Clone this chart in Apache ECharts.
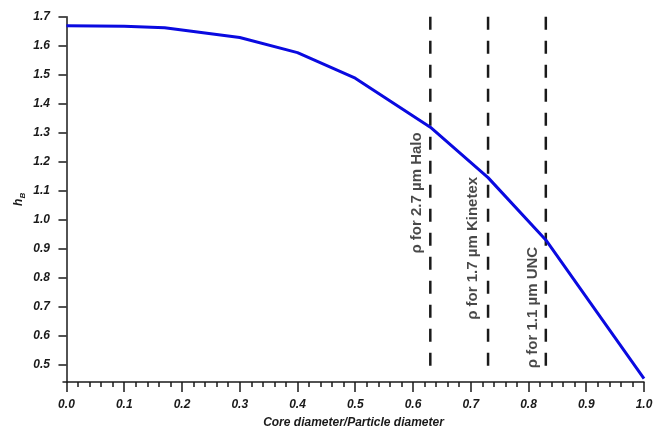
<!DOCTYPE html>
<html lang="en">
  <head>
    <meta charset="utf-8" />
    <script type="text/javascript" src="https://cdn.jsdelivr.net/npm/echarts@6/dist/echarts.min.js"></script>
    <title>h_B vs core diameter ratio</title>
    <style>
      html, body { margin: 0; padding: 0; background: #fff; }
      #chart { width: 658px; height: 437px; }
    </style>
  </head>
  <body>
    <div id="chart"></div>
    <script>
      // curve: core/particle diameter ratio vs h_B
      var ratio = [0.0, 0.1, 0.17, 0.3, 0.4, 0.5, 0.63, 0.73, 0.83, 0.92, 1.0]
      var hB = [1.669, 1.667, 1.662, 1.628, 1.576, 1.488, 1.319, 1.145, 0.930, 0.677, 0.452]

      // vertical markers (rho of each column type)
      var rhoX = [0.63, 0.73, 0.83]
      var rhoTop = 1.7
      var rhoBottom = 0.46
      var rhoNames = ['\u03c1 for 2.7 \u00b5m Halo', '\u03c1 for 1.7 \u00b5m Kinetex', '\u03c1 for 1.1 \u00b5m UNC']
      var rhoLabelX = [0.607, 0.703, 0.808]
      var rhoLabelY = [1.092, 0.901, 0.697]

      var xTicks = [0.0, 0.1, 0.2, 0.3, 0.4, 0.5, 0.6, 0.7, 0.8, 0.9, 1.0]
      var yTicks = [0.5, 0.6, 0.7, 0.8, 0.9, 1.0, 1.1, 1.2, 1.3, 1.4, 1.5, 1.6, 1.7]

      var minorX = []
      for (var i = 0; i <= 50; i++) {
        if (i % 5 !== 0) minorX.push(i / 50)
      }

      var font = 'Liberation Sans, Arial, sans-serif'
      var ink = '#1a1a1a'

      var series = [{
        type: 'line',
        data: ratio.map(function (x, i) { return [x, hB[i]] }),
        showSymbol: false,
        lineStyle: { color: '#0a0ae0', width: 3 },
        z: 3
      }]
      rhoX.forEach(function (x) {
        series.push({
          type: 'line',
          data: [[x, rhoTop], [x, rhoBottom]],
          showSymbol: false,
          lineStyle: { color: ink, width: 2.5, type: [13, 11] },
          z: 2
        })
      })
      series.push({
        type: 'scatter',
        symbolSize: 0,
        data: rhoNames.map(function (n, i) { return { name: n, value: [rhoLabelX[i], rhoLabelY[i]] } }),
        label: {
          show: true,
          position: 'inside',
          rotate: 90,
          formatter: '{b}',
          fontFamily: font,
          fontSize: 15,
          fontWeight: 'bold',
          color: ink
        },
        z: 4
      })

      var chart = echarts.init(document.getElementById('chart'))
      chart.setOption({
        animation: false,
        grid: { left: 63, right: 14, top: 16.7, bottom: 55 },
        xAxis: [{
          type: 'value',
          min: -0.006,
          max: 1.0,
          splitLine: { show: false },
          axisLine: { lineStyle: { color: ink, width: 1.5 } },
          axisTick: { customValues: xTicks, length: 10, lineStyle: { color: ink, width: 1.5 } },
          axisLabel: {
            customValues: xTicks,
            margin: 17,
            fontFamily: font,
            fontSize: 12,
            fontWeight: 'bold',
            fontStyle: 'italic',
            color: ink,
            formatter: function (v) { return v.toFixed(1) }
          },
          name: 'Core diameter/Particle diameter',
          nameLocation: 'middle',
          nameGap: 35,
          nameTextStyle: { fontFamily: font, fontSize: 12, fontWeight: 'bold', fontStyle: 'italic', color: ink }
        }, {
          type: 'value',
          min: -0.006,
          max: 1.0,
          position: 'bottom',
          splitLine: { show: false },
          axisLine: { show: false },
          axisLabel: { show: false },
          axisTick: { customValues: minorX, length: 5, lineStyle: { color: ink, width: 1.5 } }
        }],
        yAxis: {
          type: 'value',
          min: 0.44,
          max: 1.7,
          splitLine: { show: false },
          axisLine: { show: true, lineStyle: { color: ink, width: 1.5 } },
          axisTick: { show: true, customValues: yTicks, length: 8, lineStyle: { color: ink, width: 1.5 } },
          axisLabel: {
            customValues: yTicks,
            margin: 13,
            fontFamily: font,
            fontSize: 12,
            fontWeight: 'bold',
            fontStyle: 'italic',
            color: ink,
            formatter: function (v) { return v.toFixed(1) }
          },
          name: '{h|h}{s|B}',
          nameLocation: 'middle',
          nameRotate: 90,
          nameGap: 36,
          nameMoveOverlap: false,
          nameTextStyle: {
            color: ink,
            rich: {
              h: { fontFamily: font, fontSize: 12, fontWeight: 'bold', fontStyle: 'italic', color: ink, lineHeight: 16 },
              s: { fontFamily: font, fontSize: 8, fontWeight: 'bold', fontStyle: 'italic', color: ink, lineHeight: 16, verticalAlign: 'bottom', padding: [6, 0, 0, 0] }
            }
          }
        },
        series: series
      })
    </script>
  </body>
</html>
